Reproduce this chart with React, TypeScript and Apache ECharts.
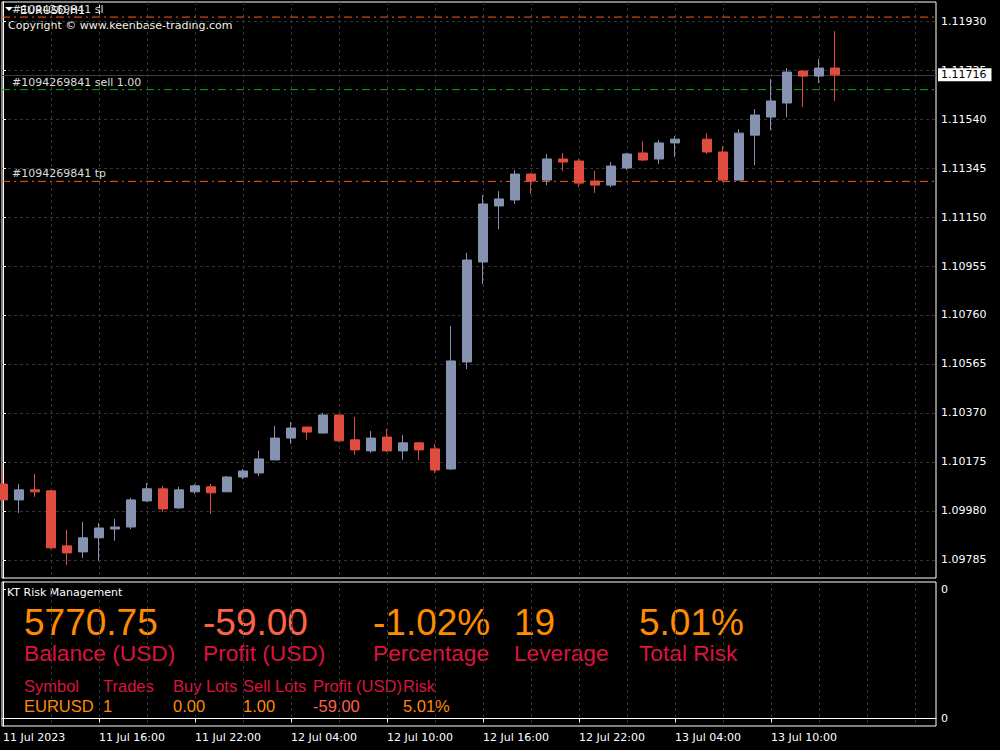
import React, { useEffect, useRef } from "react";
import * as echarts from "echarts";

// ---- Data (EURUSD H1, 11 Jul 10:00 -> 13 Jul 14:00; index 43 has no visible bar) ----
const barIndex = [
  0, 1, 2, 3, 4, 5, 6, 7, 8, 9, 10, 11, 12, 13, 14, 15, 16, 17, 18, 19, 20, 21, 22, 23, 24, 25, 26,
  27, 28, 29, 30, 31, 32, 33, 34, 35, 36, 37, 38, 39, 40, 41, 42, 44, 45, 46, 47, 48, 49, 50, 51, 52,
];
const opens = [
  1.10087, 1.10024, 1.10064, 1.1006, 1.09841, 1.09817, 1.09873, 1.09908, 1.09916, 1.1002, 1.10068,
  1.09992, 1.10056, 1.10076, 1.10056, 1.10115, 1.10131, 1.10183, 1.1027, 1.10314, 1.1029, 1.10362,
  1.10263, 1.10219, 1.10274, 1.10219, 1.10251, 1.10227, 1.10147, 1.10573, 1.10971, 1.11194, 1.11218,
  1.11321, 1.11297, 1.11381, 1.11373, 1.11293, 1.11277, 1.11345, 1.11405, 1.11381, 1.11445, 1.1146,
  1.11409, 1.11297, 1.11476, 1.11548, 1.11604, 1.11731, 1.11711, 1.11743,
];
const closes = [
  1.10024, 1.10064, 1.10056, 1.09833, 1.09813, 1.09873, 1.09912, 1.09916, 1.10024, 1.10068, 1.09988,
  1.10064, 1.1008, 1.10052, 1.10115, 1.10139, 1.10187, 1.1027, 1.1031, 1.10294, 1.10362, 1.10259,
  1.10223, 1.1027, 1.10219, 1.10251, 1.10223, 1.10143, 1.10577, 1.10979, 1.11202, 1.11222, 1.11321,
  1.11293, 1.11381, 1.11369, 1.11285, 1.11277, 1.11353, 1.11401, 1.11377, 1.11445, 1.1146, 1.11409,
  1.11297, 1.11484, 1.11556, 1.11612, 1.11727, 1.11711, 1.11743, 1.11716,
];
const lows = [
  1.10024, 1.09972, 1.10036, 1.09829, 1.09765, 1.09793, 1.09781, 1.09861, 1.09908, 1.10016, 1.09976,
  1.09988, 1.10048, 1.09968, 1.10056, 1.10107, 1.10119, 1.10183, 1.10247, 1.10263, 1.1029, 1.10255,
  1.10203, 1.10211, 1.10215, 1.10183, 1.10183, 1.10131, 1.10143, 1.10545, 1.10883, 1.11102, 1.11202,
  1.11242, 1.11277, 1.11333, 1.11269, 1.11246, 1.11269, 1.11337, 1.11373, 1.11361, 1.11389, 1.11401,
  1.11289, 1.11297, 1.11357, 1.11496, 1.11548, 1.11588, 1.11683, 1.11612,
];
const highs = [
  1.10155, 1.10087, 1.10127, 1.10064, 1.09904, 1.09936, 1.09932, 1.09948, 1.10032, 1.10091, 1.1008,
  1.10076, 1.10087, 1.10087, 1.10119, 1.10147, 1.10219, 1.10318, 1.10334, 1.10314, 1.1037, 1.10362,
  1.10354, 1.10298, 1.10306, 1.10282, 1.10255, 1.10247, 1.10716, 1.11007, 1.11238, 1.11253, 1.11337,
  1.11325, 1.11401, 1.11405, 1.11381, 1.11333, 1.11369, 1.11405, 1.11452, 1.11456, 1.11472, 1.11484,
  1.11433, 1.115, 1.1158, 1.11699, 1.11743, 1.11735, 1.11779, 1.1189,
];

const priceTicks = [
  1.09785, 1.0998, 1.10175, 1.1037, 1.10565, 1.1076, 1.10955, 1.1115, 1.11345, 1.1154, 1.11735, 1.1193,
];
const timeTickIndex = [0, 6, 12, 18, 24, 30, 36, 42, 48];
const timeTickLabels = [
  "11 Jul 2023",
  "11 Jul 16:00",
  "11 Jul 22:00",
  "12 Jul 04:00",
  "12 Jul 10:00",
  "12 Jul 16:00",
  "12 Jul 22:00",
  "13 Jul 04:00",
  "13 Jul 10:00",
];
const gridColumns = [3, 6, 9, 12, 15, 18, 21, 24, 27, 30, 33, 36, 39, 42, 45, 48, 51, 54, 57];

const symbolTitle = "EURUSD,H1";
const copyrightText = "Copyright \u00a9 www.keenbase-trading.com";
const orderTicket = "#1094269841";
const orderLines = ["sl", "sell 1.00", "tp"];
const orderPrices = [1.11946, 1.11657, 1.11292];
const bidPrice = 1.11716;

const panelTitle = "KT Risk Management";
const statValues = ["5770.75", "-59.00", "-1.02%", "19", "5.01%"];
const statLabels = ["Balance (USD)", "Profit (USD)", "Percentage", "Leverage", "Total Risk"];
const tableHeaders = ["Symbol", "Trades", "Buy Lots", "Sell Lots", "Profit (USD)", "Risk"];
const tableRow = ["EURUSD", "1", "0.00", "1.00", "-59.00", "5.01%"];
const panelScaleTicks = [0, 1];
const panelScaleLabel = "0";

// ---- Styling ----
const BULL = "#8593B0";
const BEAR = "#E04C3E";
const GRIDLINE = "#343434";
const ORANGE = "#FF8C00";
const CRIMSON = "#DC143C";
const TOMATO = "#FF6347";
const ORDER_LINE_COLORS = ["#FF5A14", "#00B400", "#FF5A14"];
const UI_FONT = "DejaVu Sans";
const ARIAL = "Liberation Sans, Arial, sans-serif";

const X_MIN = -0.0625;
const X_MAX = 58.3125;
const Y_MIN = 1.09713;
const Y_MAX = 1.12006;

export default function App() {
  const ref = useRef<HTMLDivElement>(null);

  useEffect(() => {
    document.body.style.margin = "0";
    document.body.style.background = "#000";
    if (!ref.current) return;
    const chart = echarts.init(ref.current, undefined, { renderer: "svg" });

    const candleData = barIndex.map((x, k) => [x, opens[k], closes[k], lows[k], highs[k]]);

    const statX = [24, 203, 373, 514, 639];
    const tableX = [24, 103, 173, 243, 313, 403];

    const graphics: any[] = [
      {
        type: "polygon",
        shape: { points: [[5, 7], [13, 7], [9, 11]] },
        style: { fill: "#fff" },
      },
      {
        type: "text",
        x: 20,
        y: 10,
        style: { text: symbolTitle, fill: "#fff", font: `11px ${UI_FONT}`, verticalAlign: "middle" },
      },
      { type: "rect", shape: { x: 99, y: 3, width: 1, height: 11 }, style: { fill: "#fff" } },
      {
        type: "text",
        x: 8,
        y: 25,
        style: { text: copyrightText, fill: "#F2F2E6", font: `11px ${UI_FONT}`, verticalAlign: "middle" },
      },
      {
        type: "text",
        x: 7,
        y: 592,
        style: { text: panelTitle, fill: "#fff", font: `11px ${UI_FONT}`, verticalAlign: "middle" },
      },
    ];
    statValues.forEach((v, i) => {
      graphics.push({
        type: "text",
        x: statX[i],
        y: 622,
        style: {
          text: v,
          fill: i === 1 ? TOMATO : ORANGE,
          font: `37px ${ARIAL}`,
          verticalAlign: "middle",
        },
      });
      graphics.push({
        type: "text",
        x: statX[i],
        y: 653,
        style: { text: statLabels[i], fill: CRIMSON, font: `22.7px ${ARIAL}`, verticalAlign: "middle" },
      });
    });
    tableHeaders.forEach((h, i) => {
      graphics.push({
        type: "text",
        x: tableX[i],
        y: 686,
        style: { text: h, fill: CRIMSON, font: `16.5px ${ARIAL}`, verticalAlign: "middle" },
      });
      graphics.push({
        type: "text",
        x: tableX[i],
        y: 706,
        style: {
          text: tableRow[i],
          fill: i === 4 ? TOMATO : ORANGE,
          font: `16.5px ${ARIAL}`,
          verticalAlign: "middle",
        },
      });
    });

    // Order lines (SL / entry / TP) drawn as horizontal line series across the x extent
    const orderSeries = orderPrices.map((price, i) => ({
      type: "line",
      name: `order-${i}`,
      xAxisIndex: 0,
      yAxisIndex: 0,
      z: 1,
      silent: true,
      symbol: "circle",
      symbolSize: 0,
      showSymbol: true,
      lineStyle: { color: ORDER_LINE_COLORS[i], type: [8, 4, 2, 4], width: 1 },
      itemStyle: { color: ORDER_LINE_COLORS[i] },
      data: [
        {
          value: [X_MIN, price],
          label: {
            show: true,
            position: "top",
            align: "left",
            offset: [10, 0],
            distance: 2,
            formatter: `${orderTicket} ${orderLines[i]}`,
            color: "#dcdcdc",
            fontFamily: UI_FONT,
            fontSize: 11,
          },
        },
        { value: [X_MAX, price], label: { show: false } },
      ],
    }));

    const bidSeries = {
      type: "line",
      name: "bid",
      xAxisIndex: 0,
      yAxisIndex: 0,
      z: 1,
      data: [],
      showSymbol: false,
      color: "#3c3c3c",
      markLine: {
        silent: true,
        z: 1,
        precision: 5,
        symbol: ["none", "none"],
        lineStyle: { color: "#3c3c3c", type: "solid", width: 1, opacity: 1 },
        label: {
          show: true,
          position: "end",
          formatter: bidPrice.toFixed(5),
          backgroundColor: "#fff",
          color: "#000",
          fontFamily: UI_FONT,
          fontSize: 11,
          padding: [1, 5, 1, 3],
          distance: 2,
        },
        data: [{ yAxis: bidPrice }],
      },
    };

    const option: any = {
      animation: false,
      backgroundColor: "#000",
      textStyle: { fontFamily: UI_FONT },
      grid: [
        { left: 2, top: 2, width: 934, height: 576, show: true, borderColor: "#fff", borderWidth: 1 },
        { left: 2, top: 582, width: 934, height: 144, show: true, borderColor: "#fff", borderWidth: 1 },
      ],
      xAxis: [
        {
          gridIndex: 0,
          type: "value",
          min: X_MIN,
          max: X_MAX,
          axisLine: { show: false },
          axisTick: { show: false, customValues: gridColumns },
          axisLabel: { show: false, customValues: gridColumns },
          splitLine: { show: true, lineStyle: { color: GRIDLINE, type: [3, 3] } },
        },
        {
          gridIndex: 1,
          type: "value",
          min: X_MIN,
          max: X_MAX,
          position: "bottom",
          axisLine: { show: true, lineStyle: { color: "#fff" } },
          axisTick: { show: true, customValues: timeTickIndex, length: 4, lineStyle: { color: "#fff" } },
          axisLabel: {
            customValues: timeTickIndex,
            formatter: (v: number) => timeTickLabels[timeTickIndex.indexOf(Math.round(v))] ?? "",
            align: "left",
            color: "#fff",
            fontFamily: UI_FONT,
            fontSize: 11,
            margin: 6,
          },
          splitLine: { show: false },
        },
        {
          gridIndex: 1,
          type: "value",
          min: X_MIN,
          max: X_MAX,
          position: "top",
          axisLine: { show: false },
          axisTick: { show: false, customValues: gridColumns },
          axisLabel: { show: false, customValues: gridColumns },
          splitLine: { show: true, lineStyle: { color: GRIDLINE, type: [3, 3] } },
        },
      ],
      yAxis: [
        {
          gridIndex: 0,
          type: "value",
          position: "right",
          min: Y_MIN,
          max: Y_MAX,
          axisLine: { show: true, lineStyle: { color: "#fff" } },
          axisTick: { show: true, customValues: priceTicks, length: 3, lineStyle: { color: "#fff" } },
          axisLabel: {
            customValues: priceTicks,
            formatter: (v: number) => v.toFixed(5),
            color: "#fff",
            fontFamily: UI_FONT,
            fontSize: 11,
            margin: 5,
          },
          splitLine: { show: true, lineStyle: { color: GRIDLINE, type: [3, 3] } },
        },
        {
          gridIndex: 1,
          type: "value",
          position: "right",
          min: -0.06,
          max: 1.06,
          axisLine: { show: true, lineStyle: { color: "#fff" } },
          axisTick: { show: true, customValues: panelScaleTicks, length: 3, lineStyle: { color: "#fff" } },
          axisLabel: {
            customValues: panelScaleTicks,
            formatter: () => panelScaleLabel,
            color: "#fff",
            fontFamily: UI_FONT,
            fontSize: 11,
            margin: 5,
          },
          splitLine: { show: false },
        },
      ],
      series: [
        ...orderSeries,
        bidSeries,
        {
          type: "candlestick",
          xAxisIndex: 0,
          yAxisIndex: 0,
          z: 3,
          barWidth: 10,
          encode: { x: 0, y: [1, 2, 3, 4] },
          data: candleData,
          itemStyle: {
            color: BULL,
            color0: BEAR,
            borderColor: BULL,
            borderColor0: BEAR,
            borderWidth: 1,
          },
        },
      ],
      graphic: graphics,
    };

    chart.setOption(option);
    return () => chart.dispose();
  }, []);

  return (
    <div
      ref={ref}
      style={{ position: "fixed", left: 0, top: 0, width: 1000, height: 750, background: "#000" }}
    />
  );
}
